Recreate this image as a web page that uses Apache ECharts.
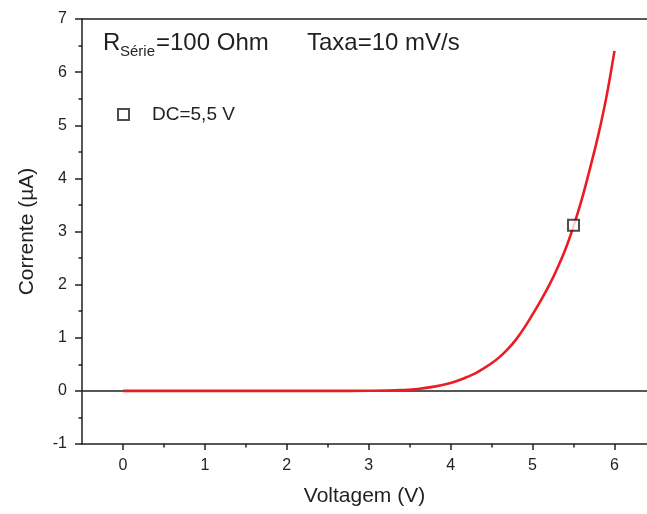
<!DOCTYPE html>
<html>
<head>
<meta charset="utf-8">
<script src="https://cdn.jsdelivr.net/npm/echarts@6/dist/echarts.min.js"></script>
<style>html,body{margin:0;padding:0;background:#fff}#c{width:647px;height:514px}</style>
</head>
<body>
<div id="c"></div>
<script>
// Data
const voltage = [0, 0.5, 1, 1.5, 2, 2.5, 3, 3.2, 3.4, 3.6, 3.8, 4.0, 4.1, 4.2, 4.3, 4.4, 4.5, 4.6, 4.7, 4.8, 4.9, 5.0, 5.1, 5.2, 5.3, 5.4, 5.5, 5.6, 5.7, 5.8, 5.9, 6.0];
const current = [0, 0, 0, 0, 0, 0, 0.003, 0.006, 0.015, 0.035, 0.08, 0.15, 0.20, 0.26, 0.33, 0.42, 0.52, 0.64, 0.79, 0.97, 1.19, 1.44, 1.70, 1.98, 2.30, 2.66, 3.10, 3.60, 4.18, 4.80, 5.52, 6.40];
const markerVoltage = [5.5];
const markerCurrent = [3.12];
const xMajorTicks = [0, 1, 2, 3, 4, 5, 6];
const xMinorTicks = [0.5, 1.5, 2.5, 3.5, 4.5, 5.5];
const legendName = 'DC=5,5 V';

const FONT = "'Liberation Sans', Arial, sans-serif";
const INK = '#231f20';

const chart = echarts.init(document.getElementById('c'));
const common = { min: -0.5, max: 6.397, interval: 0.5, type: 'value', splitLine: { show: false } };
chart.setOption({
  animation: false,
  backgroundColor: '#fff',
  textStyle: { fontFamily: FONT },
  grid: { left: 82, right: 0, top: 19, bottom: 70 },
  legend: {
    data: [legendName], left: 112, top: 100, icon: 'rect', itemWidth: 11, itemHeight: 11,
    itemStyle: { color: '#fff', borderColor: INK, borderWidth: 2 },
    textStyle: { fontSize: 19, color: INK, fontFamily: FONT, padding: [0, 0, 0, 18] }
  },
  xAxis: [
    Object.assign({}, common, {
      position: 'bottom',
      name: 'Voltagem (V)', nameLocation: 'middle', nameGap: 42,
      nameTextStyle: { fontSize: 21, color: INK, fontFamily: FONT },
      axisLine: { onZero: false, lineStyle: { color: INK, width: 1.5 } },
      axisTick: { customValues: xMajorTicks, length: 6, lineStyle: { color: INK, width: 1.5 } },
      axisLabel: { customValues: xMajorTicks, fontSize: 16, color: INK, margin: 14, fontFamily: FONT }
    }),
    Object.assign({}, common, {
      position: 'bottom',
      axisLine: { show: false, onZero: false },
      axisTick: { customValues: xMinorTicks, length: 3.5, lineStyle: { color: INK, width: 1.5 } },
      axisLabel: { show: false }
    }),
    Object.assign({}, common, {
      position: 'top',
      axisLine: { onZero: false, lineStyle: { color: INK, width: 1.5 } },
      axisTick: { show: false }, axisLabel: { show: false }
    }),
    Object.assign({}, common, {
      position: 'bottom',
      axisLine: { onZero: true, lineStyle: { color: INK, width: 1.5 } },
      axisTick: { show: false }, axisLabel: { show: false }
    })
  ],
  yAxis: [{
    type: 'value', min: -1, max: 7, interval: 1, position: 'left',
    name: 'Corrente (\u00b5A)', nameLocation: 'middle', nameGap: 44,
    nameTextStyle: { fontSize: 21, color: INK, fontFamily: FONT },
    axisLine: { onZero: false, lineStyle: { color: INK, width: 1.5 } },
    axisTick: { length: 7, lineStyle: { color: INK, width: 1.5 } },
    minorTick: { show: true, splitNumber: 2, length: 3.5, lineStyle: { color: INK, width: 1.5 } },
    axisLabel: { fontSize: 16, color: INK, margin: 15, fontFamily: FONT },
    splitLine: { show: false }, minorSplitLine: { show: false }
  }],
  series: [
    {
      type: 'line', name: 'curve', xAxisIndex: 0, yAxisIndex: 0,
      data: voltage.map((v, i) => [v, current[i]]),
      smooth: 0.4, showSymbol: false, symbol: 'none',
      lineStyle: { color: '#ec1c24', width: 2.6 }, z: 3
    },
    {
      type: 'scatter', name: legendName, xAxisIndex: 0, yAxisIndex: 0,
      data: markerVoltage.map((v, i) => [v, markerCurrent[i]]),
      symbol: 'rect', symbolSize: 11,
      itemStyle: { color: '#fff', borderColor: INK, borderWidth: 2 }, z: 4
    }
  ],
  graphic: [
    { type: 'text', left: 103, top: 31, style: { text: 'R', fontSize: 24, fill: INK, fontFamily: FONT } },
    { type: 'text', left: 120, top: 44, style: { text: 'Série', fontSize: 15, fill: INK, fontFamily: FONT } },
    { type: 'text', left: 156, top: 31, style: { text: '=100 Ohm', fontSize: 24, fill: INK, fontFamily: FONT } },
    { type: 'text', left: 307, top: 31, style: { text: 'Taxa=10 mV/s', fontSize: 24, fill: INK, fontFamily: FONT } }
  ]
});
</script>
</body>
</html>
